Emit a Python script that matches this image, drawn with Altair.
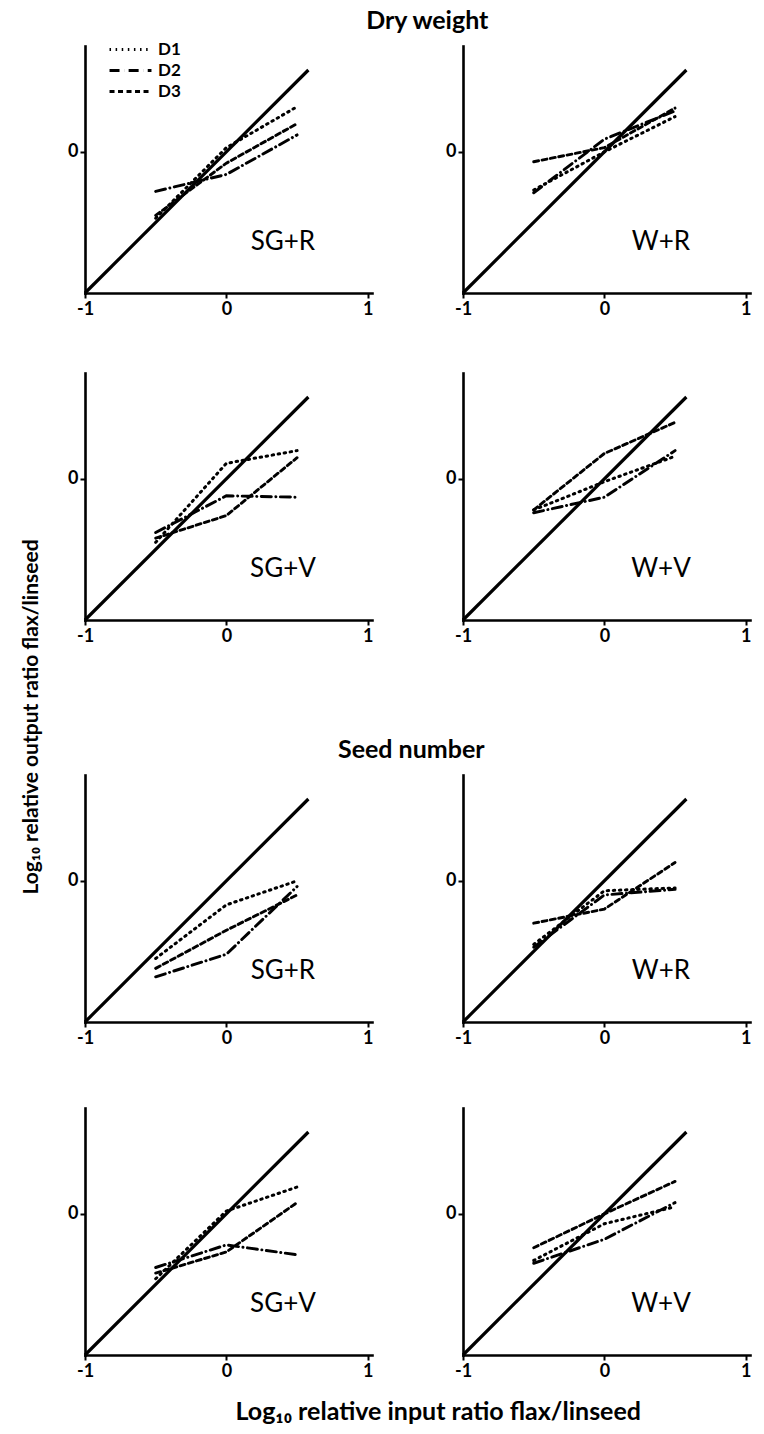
import altair as alt
import pandas as pd

# ---------------- data ----------------
X_INPUT = [-0.5, 0.0, 0.5]          # log10 relative input ratio
SERIES = ["D1", "D2", "D3"]
SECTIONS = ["Dry weight", "Seed number"]
PANEL_LABELS = ["SG+R", "W+R", "SG+V", "W+V"]
DIAG_X = [-1.0, 0.58]               # 1:1 reference line end points

# Dry weight
DRY_SGR_D1 = [-0.47, 0.03, 0.32]
DRY_SGR_D2 = [-0.28, -0.16, 0.12]
DRY_SGR_D3 = [-0.45, -0.08, 0.20]

DRY_WR_D1 = [-0.27, 0.00, 0.25]
DRY_WR_D2 = [-0.29, 0.09, 0.29]
DRY_WR_D3 = [-0.07, 0.03, 0.31]

DRY_SGV_D1 = [-0.45, 0.11, 0.20]
DRY_SGV_D2 = [-0.38, -0.12, -0.13]
DRY_SGV_D3 = [-0.42, -0.26, 0.15]

DRY_WV_D1 = [-0.22, -0.02, 0.16]
DRY_WV_D2 = [-0.24, -0.13, 0.20]
DRY_WV_D3 = [-0.22, 0.18, 0.40]

# Seed number
SEED_SGR_D1 = [-0.55, -0.17, 0.00]
SEED_SGR_D2 = [-0.68, -0.52, -0.04]
SEED_SGR_D3 = [-0.62, -0.35, -0.10]

SEED_WR_D1 = [-0.45, -0.07, -0.05]
SEED_WR_D2 = [-0.47, -0.10, -0.06]
SEED_WR_D3 = [-0.30, -0.20, 0.13]

SEED_SGV_D1 = [-0.46, 0.02, 0.19]
SEED_SGV_D2 = [-0.38, -0.22, -0.29]
SEED_SGV_D3 = [-0.42, -0.27, 0.08]

SEED_WV_D1 = [-0.33, -0.07, 0.05]
SEED_WV_D2 = [-0.35, -0.18, 0.08]
SEED_WV_D3 = [-0.24, 0.00, 0.23]

PANEL_DATA = {
    ("Dry weight", "SG+R"): [DRY_SGR_D1, DRY_SGR_D2, DRY_SGR_D3],
    ("Dry weight", "W+R"): [DRY_WR_D1, DRY_WR_D2, DRY_WR_D3],
    ("Dry weight", "SG+V"): [DRY_SGV_D1, DRY_SGV_D2, DRY_SGV_D3],
    ("Dry weight", "W+V"): [DRY_WV_D1, DRY_WV_D2, DRY_WV_D3],
    ("Seed number", "SG+R"): [SEED_SGR_D1, SEED_SGR_D2, SEED_SGR_D3],
    ("Seed number", "W+R"): [SEED_WR_D1, SEED_WR_D2, SEED_WR_D3],
    ("Seed number", "SG+V"): [SEED_SGV_D1, SEED_SGV_D2, SEED_SGV_D3],
    ("Seed number", "W+V"): [SEED_WV_D1, SEED_WV_D2, SEED_WV_D3],
}

X_TICKS = [-1, 0, 1]
Y_TICKS = [0]

X_TITLE = "Log\u2081\u2080 relative input ratio flax/linseed"
Y_TITLE = "Log\u2081\u2080 relative output ratio flax/linseed"

FONT = "Lato"
PW, PH = 287, 247
INT_LABEL = "datum.value < 0 ? '-' + abs(datum.value) : '' + datum.value"

diag_df = pd.DataFrame({"x": DIAG_X, "y": DIAG_X})


def panel(section, label, show_legend):
    rows = []
    for s, vals in zip(SERIES, PANEL_DATA[(section, label)]):
        for xv, yv in zip(X_INPUT, vals):
            rows.append({"series": s, "x": xv, "y": yv})
    df = pd.DataFrame(rows)

    xenc = alt.X("x:Q", scale=alt.Scale(domain=[-1, 1.03], nice=False, zero=False),
                 axis=alt.Axis(values=X_TICKS, title=None, tickCount=10, labelExpr=INT_LABEL,
                               labelOverlap=False, labelFlush=False))
    yenc = alt.Y("y:Q", scale=alt.Scale(domain=[-1, 0.75], nice=False, zero=False),
                 axis=alt.Axis(values=Y_TICKS, title=None, tickCount=10, labelExpr=INT_LABEL,
                               labelOverlap=False, labelFlush=False))

    diag = alt.Chart(diag_df).mark_line(color="black", strokeWidth=3.2).encode(x=xenc, y=yenc)

    if show_legend:
        leg = alt.Legend(title=None, orient="none", legendX=37, legendY=-5,
                         symbolType="M-4,0H4", symbolSize=110, symbolStrokeWidth=3.2,
                         symbolStrokeColor="black", symbolFillColor="transparent",
                         rowPadding=3,
                         labelFont=FONT, labelFontSize=17, labelFontWeight="bold",
                         labelColor="black", labelOffset=19)
    else:
        leg = None

    lines = alt.Chart(df).mark_line(color="black", strokeCap="round").encode(
        x=xenc, y=yenc,
        strokeDash=alt.StrokeDash("series:N",
                                  scale=alt.Scale(domain=SERIES,
                                                  range=[[1.5, 4.6], [10, 4.5, 0.1, 4.5], [5, 3.5]]),
                                  legend=leg),
        strokeWidth=alt.StrokeWidth("series:N",
                                    scale=alt.Scale(domain=SERIES, range=[3.0, 2.9, 2.6]),
                                    legend=None),
    )

    txt = alt.Chart(pd.DataFrame({"label": [label]})).mark_text(
        font=FONT, fontSize=26, color="black", align="center", baseline="middle"
    ).encode(x=alt.datum(0.4), y=alt.datum(-0.64), text="label:N")

    return alt.layer(diag, lines, txt).properties(width=PW, height=PH)


HS = 72

def section(name, first, dx, vs):
    r1 = alt.hconcat(panel(name, "SG+R", first), panel(name, "W+R", False), spacing=HS)
    r2 = alt.hconcat(panel(name, "SG+V", False), panel(name, "W+V", False), spacing=HS)
    return alt.vconcat(r1, r2, spacing=vs).properties(
        title=alt.TitleParams(name, anchor="middle", font=FONT, fontSize=25,
                              fontWeight="bold", color="black", offset=12, dx=dx)
    )


grid = alt.vconcat(section(SECTIONS[0], True, 18, 55), section(SECTIONS[1], False, 2, 61),
                   spacing=93).properties(
    title=alt.TitleParams(X_TITLE, orient="bottom", anchor="middle", font=FONT, fontSize=25,
                          fontWeight="bold", color="black", offset=20, dx=29)
)

chart = alt.hconcat(grid).properties(
    title=alt.TitleParams(Y_TITLE, orient="left", anchor="middle", font=FONT, fontSize=21,
                          fontWeight="bold", color="black", offset=26),
    padding={"left": 20, "top": 9, "right": 4, "bottom": 4},
).configure(background="white").configure_view(stroke=None).configure_axis(
    grid=False, domainColor="black", domainWidth=2.6, domainCap="square",
    tickColor="black", tickWidth=2, tickSize=5,
    labelFont=FONT, labelFontSize=18, labelFontWeight="bold", labelColor="black",
    labelPadding=2,
)

chart.save("out.html", embed_options={"renderer": "svg", "actions": False})
